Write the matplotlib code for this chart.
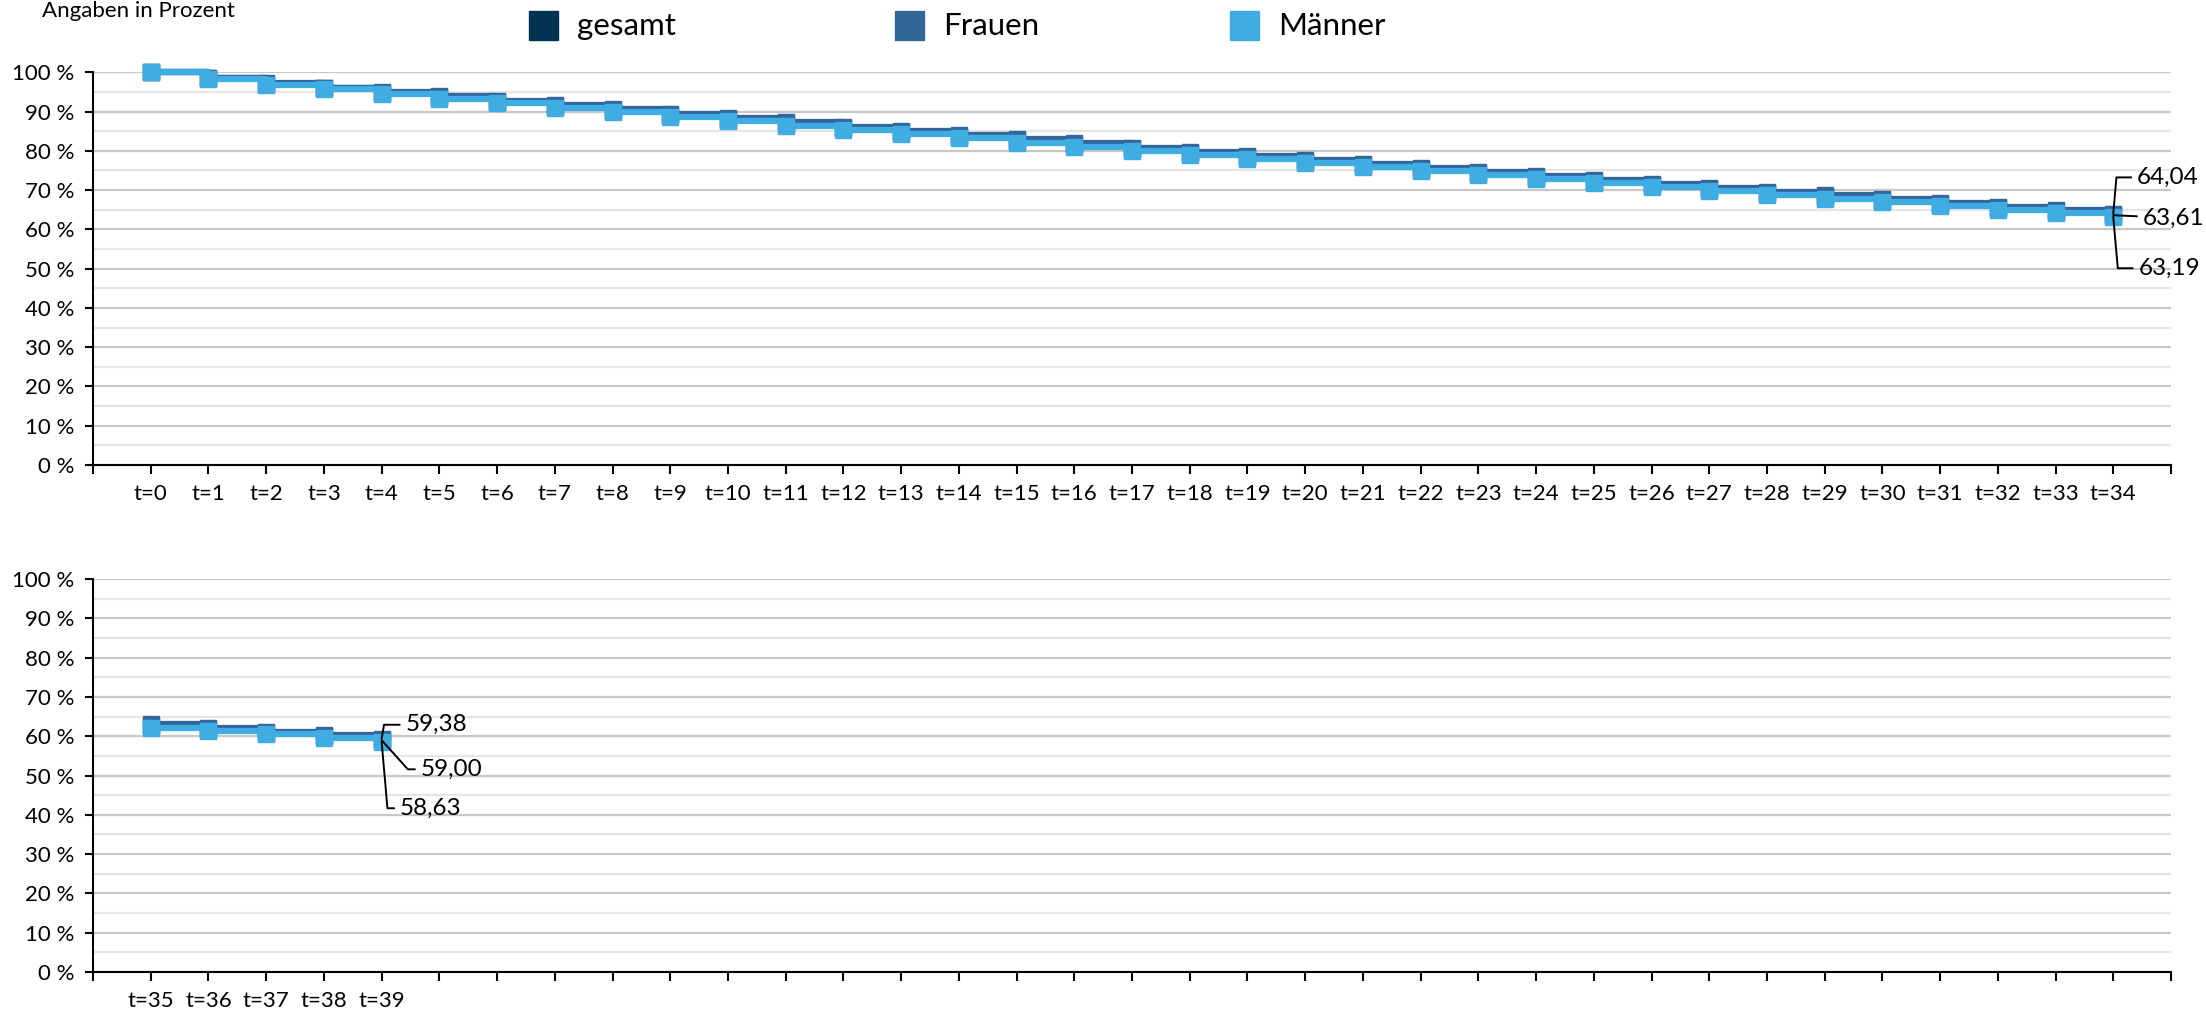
"""
Überlebenskurven (Verbleib in Prozent) für gesamt, Frauen und Männer, t=0 bis t=39.
Ausgabe: out.png
"""
import matplotlib
matplotlib.use("Agg")
import matplotlib.pyplot as plt
from matplotlib.patches import Rectangle
import numpy as np

plt.rcParams["font.family"] = ["Lato", "DejaVu Sans"]

# ── Daten ──────────────────────────────────────────────────────────────────────
t_oben = list(range(0, 35))
t_unten = list(range(35, 40))

gesamt_oben = [100.00, 98.43, 96.98, 95.88, 94.70, 93.65, 92.43, 91.25, 90.20, 89.03,
               87.93, 86.83, 85.73, 84.68, 83.63, 82.53, 81.48, 80.43, 79.38, 78.33,
               77.28, 76.23, 75.18, 74.18, 73.18, 72.18, 71.18, 70.18, 69.18, 68.23,
               67.33, 66.38, 65.38, 64.53, 63.61]
frauen_oben = [100.00, 98.55, 97.20, 96.10, 95.00, 94.00, 92.75, 91.65, 90.60, 89.45,
               88.35, 87.25, 86.15, 85.10, 84.05, 82.95, 81.90, 80.85, 79.80, 78.75,
               77.70, 76.65, 75.60, 74.60, 73.60, 72.60, 71.60, 70.60, 69.60, 68.65,
               67.75, 66.80, 65.80, 64.95, 64.04]
maenner_oben = [100.00, 98.30, 96.75, 95.65, 94.40, 93.30, 92.10, 90.85, 89.80, 88.60,
                87.50, 86.40, 85.30, 84.25, 83.20, 82.10, 81.05, 80.00, 78.95, 77.90,
                76.85, 75.80, 74.75, 73.75, 72.75, 71.75, 70.75, 69.75, 68.75, 67.80,
                66.90, 65.95, 64.95, 64.10, 63.19]

gesamt_unten = [62.60, 61.70, 60.80, 59.95, 59.00]
frauen_unten = [63.10, 62.10, 61.15, 60.35, 59.38]
maenner_unten = [62.05, 61.30, 60.45, 59.60, 58.63]

namen = ["gesamt", "Frauen", "Männer"]

# ── Stil ───────────────────────────────────────────────────────────────────────
FARBEN = {"gesamt": "#00334f", "Frauen": "#336699", "Männer": "#3fade3"}
GRID_MAJOR = "#c8c8c8"
GRID_MINOR = "#e6e6e6"
FS_TICK = 16
FS_LABEL = 17.5
FS_LEGENDE = 22.5

# Beschriftungs-Offsets (Punkte) und Knickwinkel der Führungslinien
LEADER_OBEN = {"Frauen": ((17, 26), 85), "gesamt": ((21, -2), None), "Männer": ((18, -37), 95)}
LEADER_UNTEN = {"Frauen": ((17, 10), 80), "gesamt": ((28, -21), -48), "Männer": ((13, -48), 95)}


def fmt(v: float) -> str:
    return f"{v:.2f}".replace(".", ",")


def panel(ax, t, reihen, leader):
    n_slots = 35
    x = np.arange(len(t))

    for name in namen:
        werte = reihen[name]
        farbe = FARBEN[name]
        ax.plot(x, werte, drawstyle="steps-post", color=farbe, lw=4.5,
                marker="s", ms=12, mec=farbe, mfc=farbe, clip_on=False, zorder=3)

    # Datenbeschriftungen am letzten Punkt
    for name in namen:
        (dx, dy), winkel = leader[name]
        wert = reihen[name][-1]
        if winkel is None:
            cs = "arc3"
        else:
            cs = f"angle,angleA=0,angleB={winkel},rad=0"
        ax.annotate(fmt(wert), xy=(x[-1], wert), xytext=(dx, dy),
                    textcoords="offset points", ha="left", va="center",
                    fontsize=FS_LABEL, color="black", zorder=5,
                    arrowprops=dict(arrowstyle="-", color="black", lw=1.4,
                                    shrinkA=2, shrinkB=0, connectionstyle=cs))

    ax.set_xlim(-1, n_slots)
    ax.set_ylim(0, 100)

    ticks = list(range(-1, n_slots + 1))
    labels = [f"t={t[i]}" if 0 <= i < len(t) else "" for i in ticks]
    ax.set_xticks(ticks)
    ax.set_xticklabels(labels)

    ax.set_yticks(range(0, 101, 10))
    ax.set_yticklabels([f"{v} %" for v in range(0, 101, 10)])
    ax.set_yticks(range(5, 100, 10), minor=True)

    ax.grid(axis="y", which="major", color=GRID_MAJOR, lw=1.6, zorder=0)
    ax.grid(axis="y", which="minor", color=GRID_MINOR, lw=1.6, zorder=0)
    ax.set_axisbelow(True)

    ax.spines[["top", "right"]].set_visible(False)
    for s in ("left", "bottom"):
        ax.spines[s].set_linewidth(1.5)
        ax.spines[s].set_color("black")

    ax.tick_params(axis="x", which="major", length=6.5, width=1.5, pad=7,
                   labelsize=FS_TICK, colors="black")
    ax.tick_params(axis="y", which="major", length=5.5, width=1.5, pad=8,
                   labelsize=FS_TICK, colors="black")
    ax.tick_params(axis="y", which="minor", left=False)


fig = plt.figure(figsize=(22.06, 10.11), dpi=100)
W, H = 2206, 1011
x0, x1 = 93, 2171

ax_oben = fig.add_axes([x0 / W, 1 - 465 / H, (x1 - x0) / W, (465 - 72.3) / H])
ax_unten = fig.add_axes([x0 / W, 1 - 972 / H, (x1 - x0) / W, (972 - 579) / H])

panel(ax_oben, t_oben,
      {"gesamt": gesamt_oben, "Frauen": frauen_oben, "Männer": maenner_oben},
      LEADER_OBEN)
panel(ax_unten, t_unten,
      {"gesamt": gesamt_unten, "Frauen": frauen_unten, "Männer": maenner_unten},
      LEADER_UNTEN)

# Legende oben (Quadrat + Text)
legende_x = [529, 895, 1230]
for name, lx in zip(namen, legende_x):
    fig.patches.append(Rectangle((lx / W, 1 - 40 / H), 29 / W, 29 / H,
                                 transform=fig.transFigure, color=FARBEN[name]))
    fig.text((lx + 48) / W, 1 - 26 / H, name, fontsize=FS_LEGENDE, va="center", ha="left")

# Achsentitel oben links (im Original am Rand angeschnitten, hier ganz sichtbar)
fig.text(42 / W, 1 - 1 / H, "Angaben in Prozent", fontsize=FS_TICK,
         va="top", ha="left")

fig.savefig("out.png", dpi=100)
